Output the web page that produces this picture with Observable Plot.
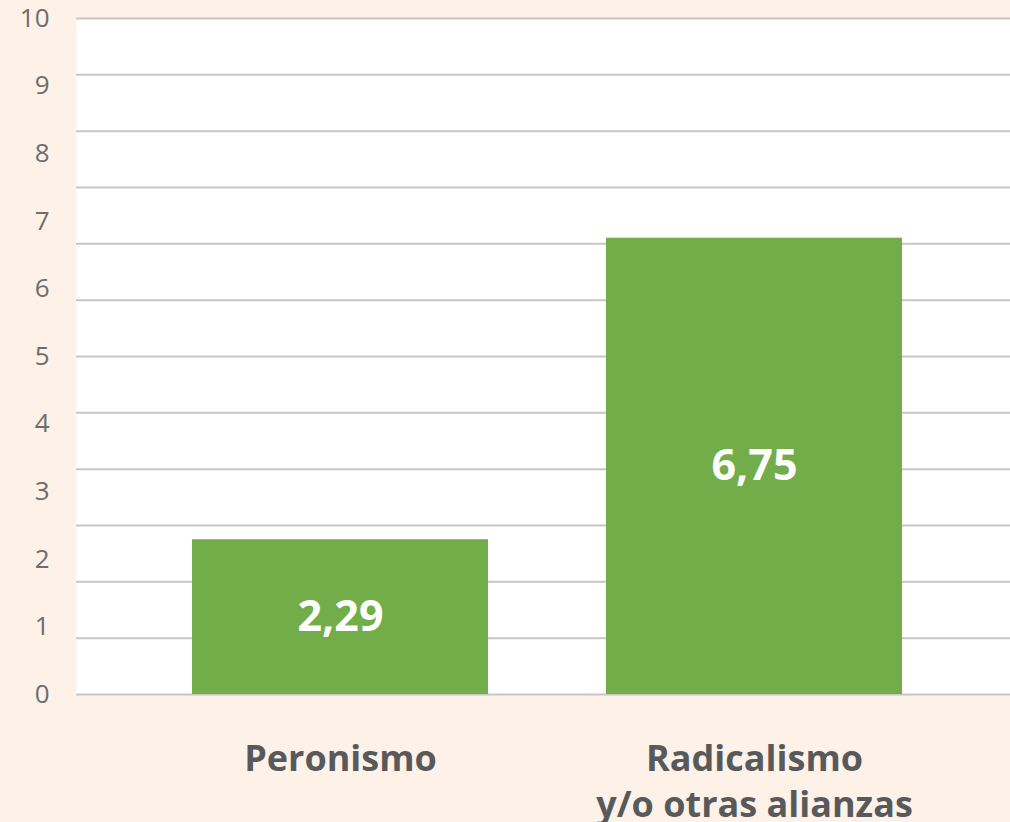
<!DOCTYPE html>
<html>
<head>
<meta charset="utf-8">
<script src="https://cdn.jsdelivr.net/npm/d3@7"></script>
<script src="https://cdn.jsdelivr.net/npm/@observablehq/plot@0.6"></script>
<style>
  html, body { margin: 0; padding: 0; background: #fdf1e8; }
  #chart { width: 1010px; height: 822px; overflow: hidden; }
</style>
</head>
<body>
<div id="chart"></div>
<script>
const categories = ["Peronismo", "Radicalismo\ny/o otras alianzas"];
const values = [2.29, 6.75];
const valueLabels = ["2,29", "6,75"];
const yTickLabels = [0, 1, 2, 3, 4, 5, 6, 7, 8, 9, 10];
const gridLines = d3.range(0, 13).map(k => k * 10 / 12);

const data = categories.map((c, i) => ({cat: c, value: values[i], label: valueLabels[i]}));

const chart = Plot.plot({
  width: 1010,
  height: 822,
  marginLeft: 76,
  marginRight: 0,
  marginTop: 18,
  marginBottom: 128,
  style: {background: "#fdf1e8", fontFamily: "'Open Sans', sans-serif"},
  x: {domain: categories, range: [133, 961], paddingInner: 0.285, paddingOuter: 0.1425, label: null},
  y: {domain: [0, 10], label: null},
  marks: [
    Plot.frame({fill: "white", stroke: null}),
    Plot.ruleY(gridLines, {stroke: "#c6c6c6", strokeWidth: 2}),
    Plot.barY(data, {x: "cat", y: "value", fill: "#72ad4a"}),
    Plot.text(data, {x: "cat", y: d => d.value / 2, text: "label", fill: "white", fontSize: 43, fontWeight: "bold"}),
    Plot.axisY(yTickLabels, {tickSize: 0, tickPadding: 27, fontSize: 26, fontWeight: "normal", fill: "#6d6d6d", tickFormat: d => String(d)}),
    Plot.axisX({tickSize: 0, tickPadding: 44, fontSize: 36, fontWeight: "bold", fill: "#58595b", lineHeight: 1.27})
  ]
});
document.getElementById("chart").appendChild(chart);
</script>
</body>
</html>
